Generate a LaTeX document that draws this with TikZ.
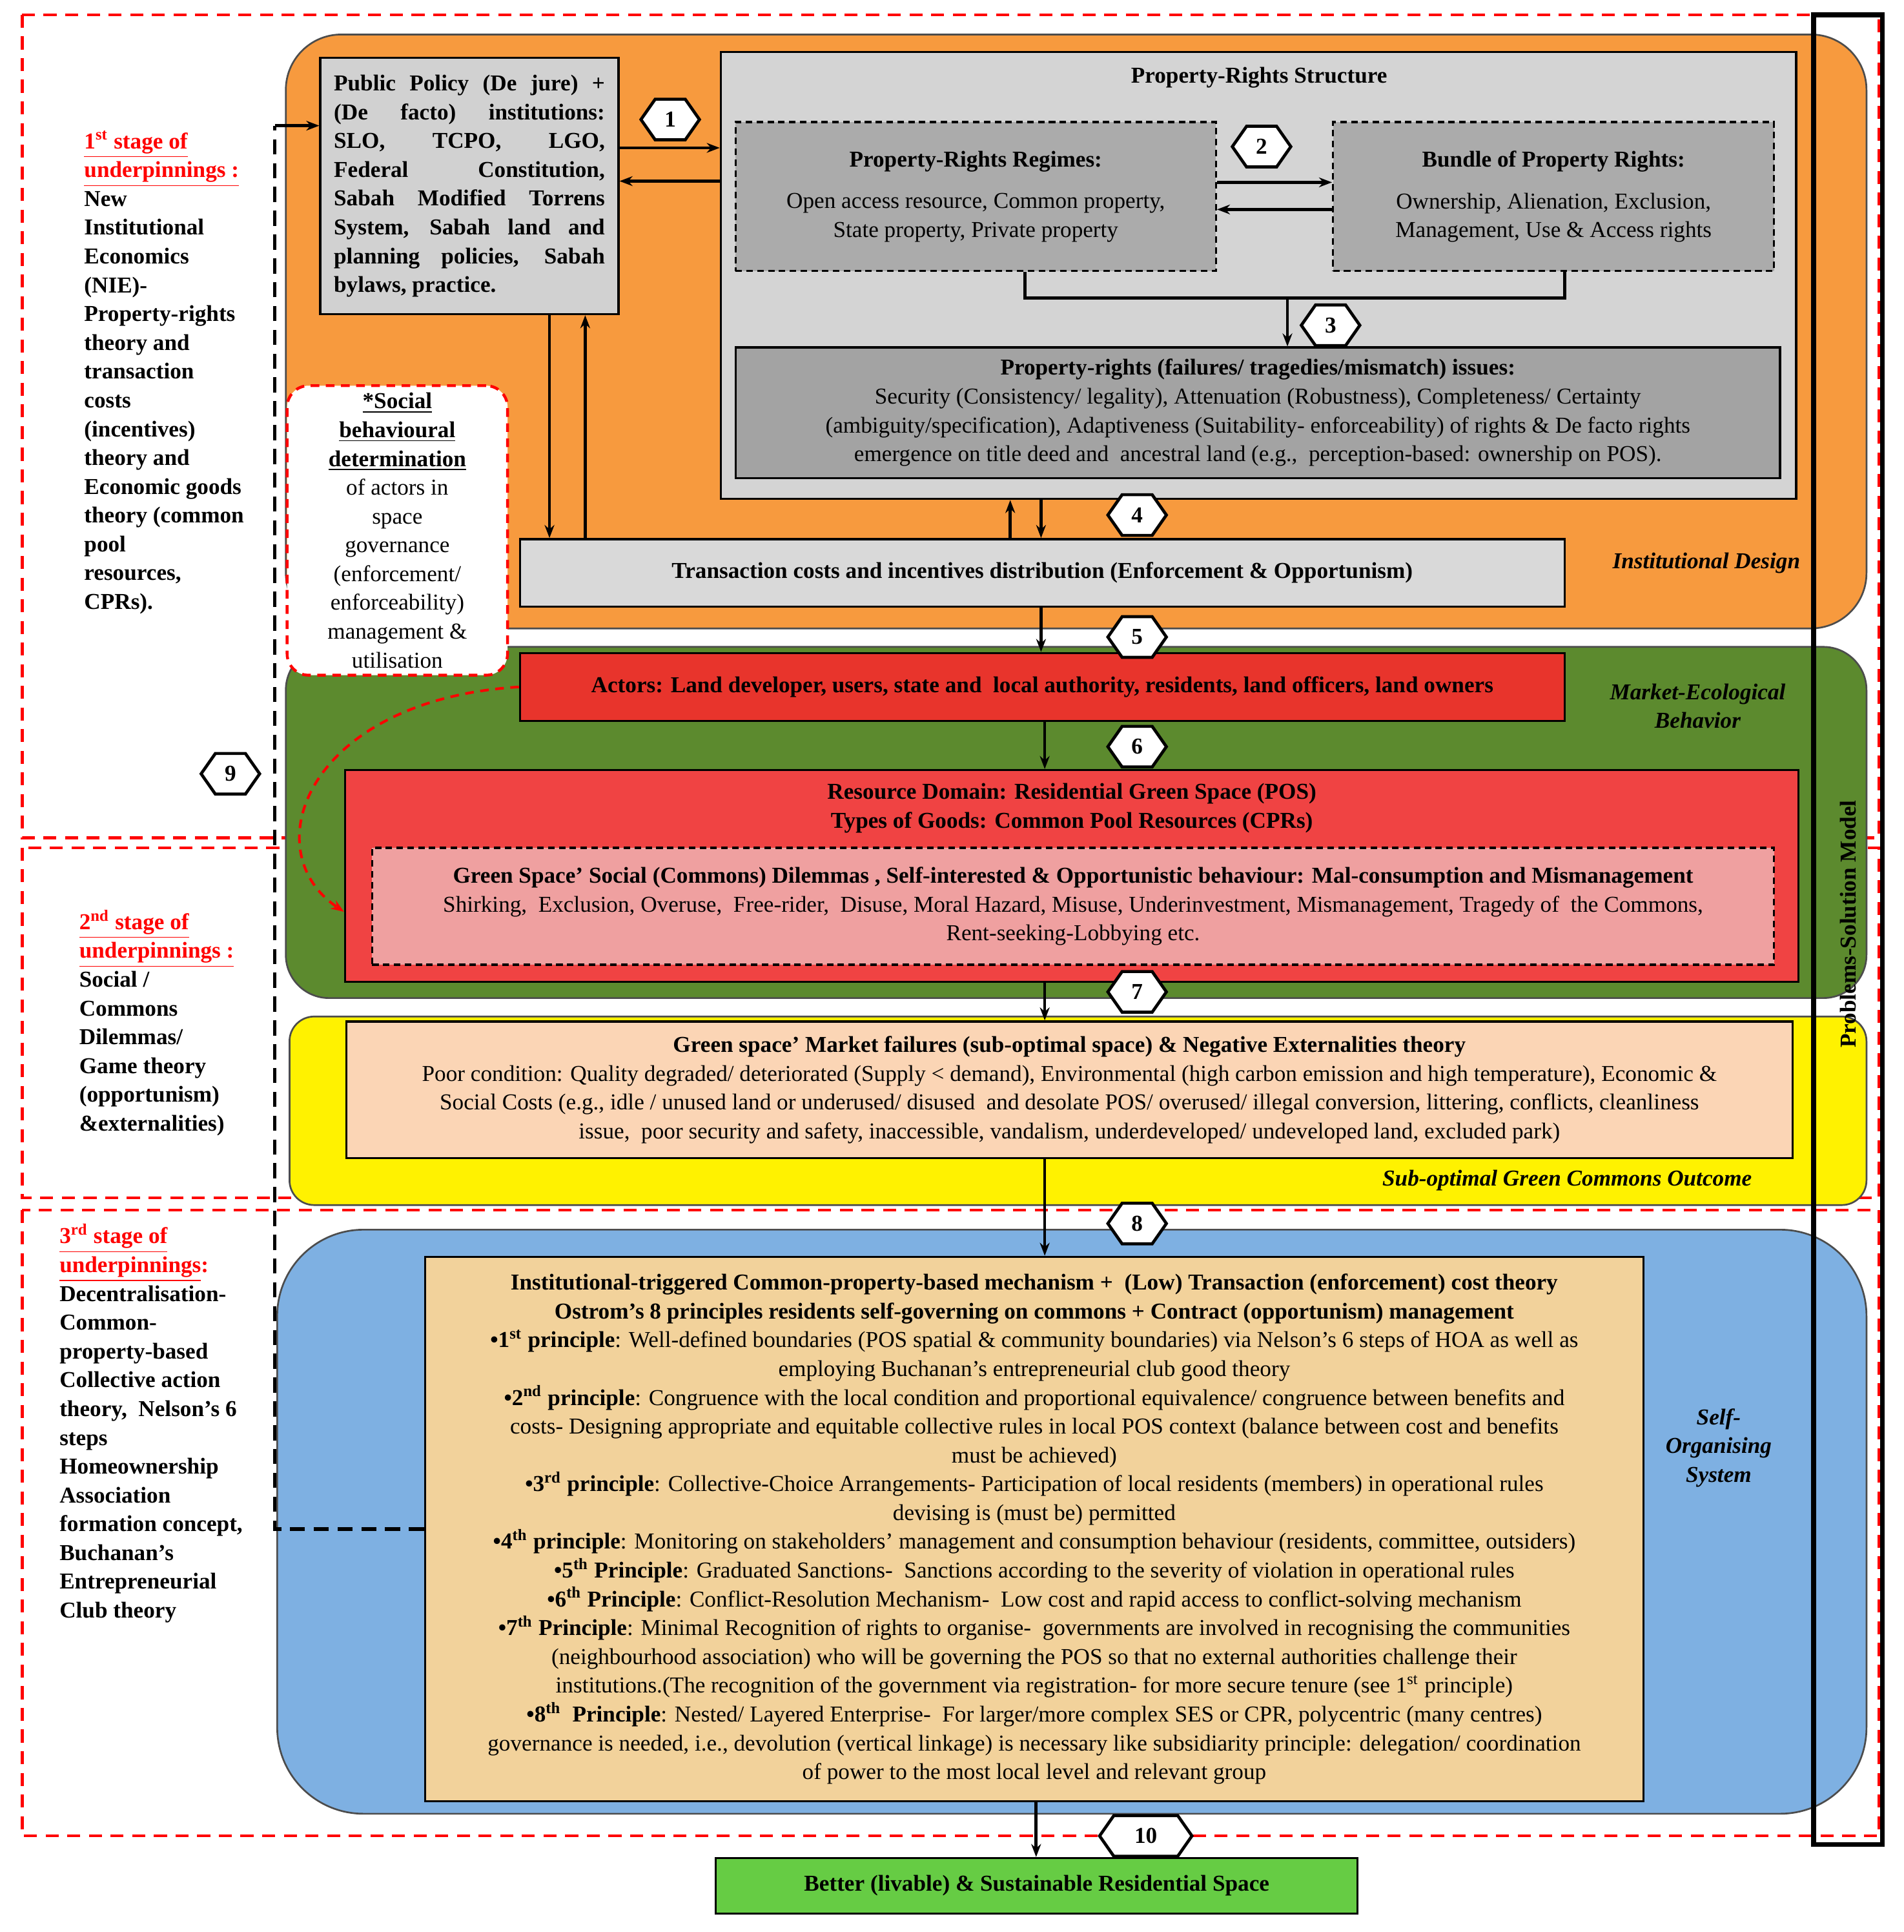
\documentclass[tikz,border=0pt]{standalone}
\usepackage{fontspec}
\setmainfont{Liberation Serif}
\usetikzlibrary{shapes.geometric,shapes.symbols,arrows.meta}
\newcommand\myfs{\fontsize{10.5}{13.3}\selectfont}
\newcommand\sps[1]{\textsuperscript{#1}}
\definecolor{cOr}{HTML}{F79A3E}
\definecolor{cGr}{HTML}{5C8A2E}
\definecolor{cBl}{HTML}{7EB0E2}
\definecolor{cTan}{HTML}{F2D29B}
\definecolor{cRed}{HTML}{F04343}
\definecolor{cAct}{HTML}{E8342C}
\definecolor{cPink}{HTML}{EFA0A0}
\definecolor{cPeach}{HTML}{FBD5B5}
\definecolor{cLime}{HTML}{66CC44}
\tikzset{
 box/.style={draw=black,line width=1pt,rectangle,inner sep=2pt,font=\myfs,align=center},
 dbox/.style={box,dash pattern=on 3pt off 2pt},
 hex/.style={draw,line width=1.4pt,fill=white,signal,signal to=east and west,signal pointer angle=110,minimum width=0.95cm,minimum height=0.66cm,inner sep=0pt,font=\myfs\bfseries},
 arr/.style={-{Stealth[length=6pt]},line width=1.4pt},
 rdash/.style={draw=red,line width=1.3pt,dash pattern=on 6pt off 4pt},
 region/.style={draw=black!70,line width=0.8pt},
 lab/.style={font=\myfs\bfseries\itshape,align=center}
}
\begin{document}
\begin{tikzpicture}[x=0.02cm,y=-0.02cm]
\useasboundingbox (0,0) rectangle (1545,1568);
% stage dashed frames
\draw[rdash] (18,12) rectangle (1525,680);
\draw[rdash] (18,688) rectangle (1525,972);
\draw[rdash] (18,982) rectangle (1525,1490);
% regions
\draw[region,fill=cOr,rounded corners=0.9cm] (232,28) rectangle (1515,510);
\draw[region,fill=cGr,rounded corners=0.7cm] (232,525) rectangle (1515,810);
\draw[region,fill=yellow,rounded corners=0.4cm] (235,825) rectangle (1515,978);
\draw[region,fill=cBl,rounded corners=1.4cm] (225,998) rectangle (1515,1472);
% right frame
\draw[line width=2.2pt] (1472,12) rectangle (1528,1497);
\node[rotate=90,font=\myfs\bfseries] (psm) at (1500,750) {Problems-Solution Model};
% region labels
\node[lab] (idl) at (1385,457) {Institutional Design};
\node[lab] (mel) at (1378,573) {Market-Ecological\\Behavior};
\node[lab] (sol) at (1272,958) {Sub-optimal Green Commons Outcome};
\node[lab] (sos) at (1395,1175) {Self-\\Organising\\System};
% stage texts
\node[anchor=north west,font=\myfs\bfseries,align=left,inner sep=0] (s1) at (68,106) {{\color{red}\underline{1\sps{st} stage of}}\\{\color{red}\underline{underpinnings :}}\\New\\Institutional\\Economics\\(NIE)-\\Property-rights\\theory and\\transaction\\costs\\(incentives)\\theory and\\Economic goods\\theory (common\\pool\\resources,\\CPRs).};
\node[anchor=north west,font=\myfs\bfseries,align=left,inner sep=0] (s2) at (64,738) {{\color{red}\underline{2\sps{nd} stage of}}\\{\color{red}\underline{underpinnings :}}\\Social /\\Commons\\Dilemmas/\\Game theory\\(opportunism)\\\&externalities)};
\node[anchor=north west,font=\myfs\bfseries,align=left,inner sep=0] (s3) at (48,993) {{\color{red}\underline{3\sps{rd} stage of}}\\{\color{red}\underline{underpinnings}:}\\Decentralisation-\\Common-\\property-based\\Collective action\\theory,~ Nelson's 6\\steps\\Homeownership\\Association\\formation concept,\\Buchanan's\\Entrepreneurial\\Club theory};
% orange nodes
\node[box,fill=black!18,minimum width=4.84cm,minimum height=4.16cm,text width=4.4cm,align=justify,font=\myfs\bfseries] (pp) at (381,151) {\hyphenpenalty=10000 Public Policy (De jure) +\linebreak (De facto) institutions:\linebreak SLO, TCPO, LGO,\linebreak Federal Constitution,\linebreak Sabah Modified Torrens\linebreak System, Sabah land and\linebreak planning policies, Sabah\linebreak bylaws, practice.};
\node[box,fill=black!17,minimum width=17.46cm,minimum height=7.26cm] (prs) at (1021.5,223.5) {};
\node[font=\myfs\bfseries] (prst) at (1022,63) {Property-Rights Structure};
\node[dbox,fill=black!33,minimum width=7.8cm,minimum height=2.42cm] (reg) at (792,159.5) {\textbf{Property-Rights Regimes:}\\[6pt]Open access resource, Common property,\\State property, Private property};
\node[dbox,fill=black!33,minimum width=7.16cm,minimum height=2.42cm] (bun) at (1261,159.5) {\textbf{Bundle of Property Rights:}\\[6pt]Ownership, Alienation, Exclusion,\\Management, Use \& Access rights};
\node[box,fill=black!36,minimum width=16.96cm,minimum height=2.12cm] (iss) at (1021,335) {\textbf{Property-rights (failures/ tragedies/mismatch) issues:}\\Security (Consistency/ legality), Attenuation (Robustness), Completeness/ Certainty\\(ambiguity/specification), Adaptiveness (Suitability- enforceability) of rights \& De facto rights\\emergence on title deed and~ ancestral land (e.g.,~ perception-based: ownership on POS).};
\node[box,fill=black!15,minimum width=16.96cm,minimum height=1.1cm,font=\myfs\bfseries] (tc) at (846,465) {Transaction costs and incentives distribution (Enforcement \& Opportunism)};
\node[box,draw=red,dash pattern=on 4pt off 3pt,line width=1.3pt,fill=white,rounded corners=0.35cm,minimum width=3.58cm,minimum height=4.7cm,inner sep=0pt] (soc) at (322.5,430.5) {\underline{\textbf{*Social}}\\\underline{\textbf{behavioural}}\\\underline{\textbf{determination}}\\of actors in\\space\\governance\\(enforcement/\\enforceability)\\management \&\\utilisation};
% green
\node[box,fill=cAct,minimum width=16.96cm,minimum height=1.1cm,font=\myfs\bfseries] (act) at (846,557.5) {Actors: Land developer, users, state and~ local authority, residents, land officers, land owners};
\node[box,fill=cRed,minimum width=23.6cm,minimum height=3.44cm] (res) at (870,711) {};
\node[font=\myfs\bfseries,align=center] (rest) at (870,656) {Resource Domain: Residential Green Space (POS)\\Types of Goods: Common Pool Resources (CPRs)};
\node[dbox,fill=cPink,minimum width=22.76cm,minimum height=1.9cm] (dil) at (871,735.5) {\textbf{Green Space' Social (Commons) Dilemmas , Self-interested \& Opportunistic behaviour: Mal-consumption and Mismanagement}\\Shirking,~ Exclusion, Overuse,~ Free-rider,~ Disuse, Moral Hazard, Misuse, Underinvestment, Mismanagement, Tragedy of~ the Commons,\\Rent-seeking-Lobbying etc.};
% yellow
\node[box,fill=cPeach,minimum width=23.48cm,minimum height=2.22cm] (mf) at (868,884.5) {\textbf{Green space' Market failures (sub-optimal space) \& Negative Externalities theory}\\Poor condition: Quality degraded/ deteriorated (Supply {\textless} demand), Environmental (high carbon emission and high temperature), Economic \&\\Social Costs (e.g., idle / unused land or underused/ disused~ and desolate POS/ overused/ illegal conversion, littering, conflicts, cleanliness\\issue,~ poor security and safety, inaccessible, vandalism, underdeveloped/ undeveloped land, excluded park)};
% blue
\node[box,fill=cTan,minimum width=19.78cm,minimum height=8.84cm] (pr) at (839.5,1241) {\textbf{Institutional-triggered Common-property-based mechanism +~ (Low) Transaction (enforcement) cost theory}\\
\textbf{Ostrom's 8 principles residents self-governing on commons + Contract (opportunism) management}\\
\textbf{•1\sps{st} principle}: Well-defined boundaries (POS spatial \& community boundaries) via Nelson's 6 steps of HOA as well as\\
employing Buchanan's entrepreneurial club good theory\\
\textbf{•2\sps{nd} principle}: Congruence with the local condition and proportional equivalence/ congruence between benefits and\\
costs- Designing appropriate and equitable collective rules in local POS context (balance between cost and benefits\\
must be achieved)\\
\textbf{•3\sps{rd} principle}: Collective-Choice Arrangements- Participation of local residents (members) in operational rules\\
devising is (must be) permitted\\
\textbf{•4\sps{th} principle}: Monitoring on stakeholders' management and consumption behaviour (residents, committee, outsiders)\\
\textbf{•5\sps{th} Principle}: Graduated Sanctions-~ Sanctions according to the severity of violation in operational rules\\
\textbf{•6\sps{th} Principle}: Conflict-Resolution Mechanism-~ Low cost and rapid access to conflict-solving mechanism\\
\textbf{•7\sps{th} Principle}: Minimal Recognition of rights to organise-~ governments are involved in recognising the communities\\
(neighbourhood association) who will be governing the POS so that no external authorities challenge their\\
institutions.(The recognition of the government via registration- for more secure tenure (see 1\sps{st} principle)\\
\textbf{•8\sps{th}~ Principle}: Nested/ Layered Enterprise-~ For larger/more complex SES or CPR, polycentric (many centres)\\
governance is needed, i.e., devolution (vertical linkage) is necessary like subsidiarity principle: delegation/ coordination\\
of power to the most local level and relevant group};
\node[box,fill=cLime,minimum width=10.42cm,minimum height=0.9cm,font=\myfs\bfseries] (bet) at (841.5,1530.5) {Better (livable) \& Sustainable Residential Space};
% connectors
\coordinate (d0) at (223,102); \coordinate (d1) at (223,1241);
\draw[line width=1.6pt,dash pattern=on 7pt off 4pt] (pr.west|-d1) -- (d1) -- (d0);
\draw[arr] (d0) -- (pp.west|-d0);
\draw[arr] (pp.east|-0,120) -- (prs.west|-0,120);
\draw[arr] (prs.west|-0,147) -- (pp.east|-0,147);
\draw[arr] (reg.east|-0,148) -- (bun.west|-0,148);
\draw[arr] (bun.west|-0,170) -- (reg.east|-0,170);
\draw[line width=1.4pt] (reg.south-|832,0) -- (832,242) -- (1270,242) -- (bun.south-|1270,0);
\draw[arr] (1045,242) -- (iss.north-|1045,0);
\draw[arr] (tc.north-|820,0) -- (prs.south-|820,0);
\draw[arr] (prs.south-|845,0) -- (tc.north-|845,0);
\draw[arr] (pp.south-|446,0) -- (tc.north-|446,0);
\draw[arr] (tc.north-|475,0) -- (pp.south-|475,0);
\draw[arr] (tc.south-|845,0) -- (act.north-|845,0);
\draw[arr] (act.south-|848,0) -- (res.north-|848,0);
\draw[arr] (res.south-|848,0) -- (mf.north-|848,0);
\draw[arr] (mf.south-|848,0) -- (pr.north-|848,0);
\draw[arr] (pr.south-|841,0) -- (bet.north-|841,0);
\draw[red,line width=1.2pt,dash pattern=on 4pt off 3pt,-{Stealth[length=6pt]}] (act.west) .. controls (250,568) and (205,690) .. (res.west|-0,740);
% hexagons
\node[hex] (h1) at (544,97) {1};
\node[hex] (h2) at (1024,119) {2};
\node[hex] (h3) at (1080,264) {3};
\node[hex] (h4) at (923,418) {4};
\node[hex] (h5) at (923,517) {5};
\node[hex] (h6) at (923,606) {6};
\node[hex] (h7) at (923,805) {7};
\node[hex] (h8) at (923,993) {8};
\node[hex] (h9) at (187,628) {9};
\node[hex,minimum width=1.5cm] (h10) at (930,1490) {10};
\end{tikzpicture}
\end{document}
